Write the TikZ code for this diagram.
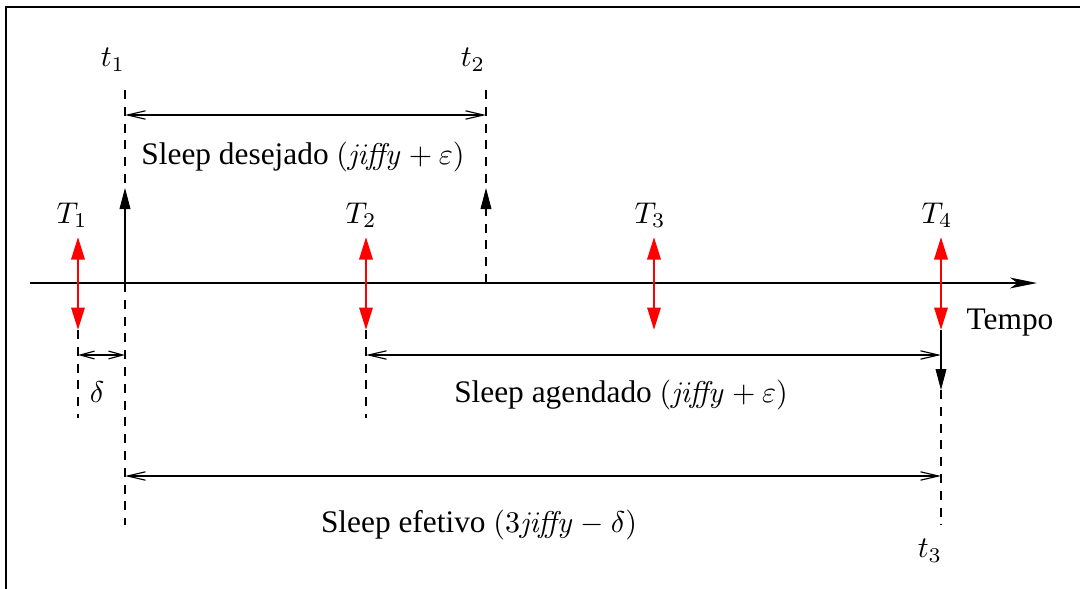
\documentclass[tikz,border=0pt]{standalone}
\usepackage[no-math]{fontspec}
\setmainfont{Liberation Serif}
\usetikzlibrary{arrows.meta}
\begin{document}
\begin{tikzpicture}[x=0.3333pt,y=-0.3333pt,
  line width=0.38pt,
  lbl/.style={inner sep=0pt, font=\fontsize{10.45}{12.5}\selectfont},
  dsh/.style={dash pattern=on 3pt off 2.6pt},
  dimline/.style={{Straight Barb[length=6pt,width=2.8pt]}-{Straight Barb[length=6pt,width=2.8pt]}},
  smalldim/.style={{Straight Barb[length=4.8pt,width=2.6pt]}-{Straight Barb[length=4.8pt,width=2.6pt]}},
  solidtip/.style={-{Triangle[length=7pt,width=3.6pt]}},
  redarrow/.style={red, line width=0.9pt, {Triangle[length=7.5pt,width=4.4pt]}-{Triangle[length=7.5pt,width=4.4pt]}},
]
\useasboundingbox (0,0) rectangle (1080,589);
% frame (partly cropped)
\draw[line width=0.7pt] (6,589) -- (6,7) -- (1080,7);

% coordinates
\coordinate (axL) at (30,283);
\coordinate (axR) at (1037,283);
\coordinate (t1top) at (125,90);
\coordinate (t1tip) at (125,188);
\coordinate (t1ax) at (125,283);
\coordinate (t1bot) at (125,525);
\coordinate (t2top) at (486,90);
\coordinate (t2tip) at (486,188);
\coordinate (t2ax) at (486,283);
\coordinate (d1L) at (125,115);
\coordinate (d1R) at (486,115);
\coordinate (r1t) at (78,237);  \coordinate (r1b) at (78,330);
\coordinate (r2t) at (366,237); \coordinate (r2b) at (366,330);
\coordinate (r3t) at (654,237); \coordinate (r3b) at (654,330);
\coordinate (r4t) at (941,237); \coordinate (r4b) at (941,330);
\coordinate (T1bot) at (78,418);
\coordinate (T2bot) at (366,418);
\coordinate (dlL) at (78,355);  \coordinate (dlR) at (125,355);
\coordinate (agL) at (366,355); \coordinate (agR) at (941,355);
\coordinate (t3tip) at (941,390);
\coordinate (t3bot) at (941,525);
\coordinate (efL) at (125,476); \coordinate (efR) at (941,476);

% time axis
\draw[-{Stealth[length=9pt,width=3.6pt,inset=2.5pt]}] (axL) -- (axR);

% t1 line
\draw[dsh] (t1top) -- (t1tip);
\draw[solidtip] (t1ax) -- (t1tip);
\draw[dsh] (t1ax) -- (t1bot);

% t2 line
\draw[dsh] (t2top) -- (t2tip);
\draw[dsh,solidtip] (t2ax) -- (t2tip);

% desired sleep
\draw[dimline] (d1L) -- (d1R);

% red task arrows
\draw[redarrow] (r1t) -- (r1b);
\draw[redarrow] (r2t) -- (r2b);
\draw[redarrow] (r3t) -- (r3b);
\draw[redarrow] (r4t) -- (r4b);

% lower dashed lines
\draw[dsh] (r1b) -- (T1bot);
\draw[dsh] (r2b) -- (T2bot);

% delta
\draw[smalldim] (dlL) -- (dlR);
% scheduled sleep
\draw[dimline] (agL) -- (agR);

% t3 line
\draw[solidtip] (r4b) -- (t3tip);
\draw[dsh] (t3tip) -- (t3bot);

% effective sleep
\draw[dimline] (efL) -- (efR);

% labels
\node[lbl] (lt1) at (113,60) {$t_1$};
\node[lbl] (lt2) at (473,60) {$t_2$};
\node[lbl] (lt3) at (930,551) {$t_3$};
\node[lbl] (lT1) at (72,215) {$T_1$};
\node[lbl] (lT2) at (361,215) {$T_2$};
\node[lbl] (lT3) at (650,215) {$T_3$};
\node[lbl] (lT4) at (937,215) {$T_4$};
\node[lbl] (ldelta) at (97,392) {$\delta$};
\node[lbl] (ltempo) at (1010,323) {Tempo};
\node[lbl] (ldes) at (303,157) {Sleep desejado $(\mathit{jiffy}+\varepsilon)$};
\node[lbl] (lage) at (621,395) {Sleep agendado $(\mathit{jiffy}+\varepsilon)$};
\node[lbl] (lefe) at (479,525) {Sleep efetivo $(3\mathit{jiffy}-\delta)$};
\end{tikzpicture}
\end{document}
